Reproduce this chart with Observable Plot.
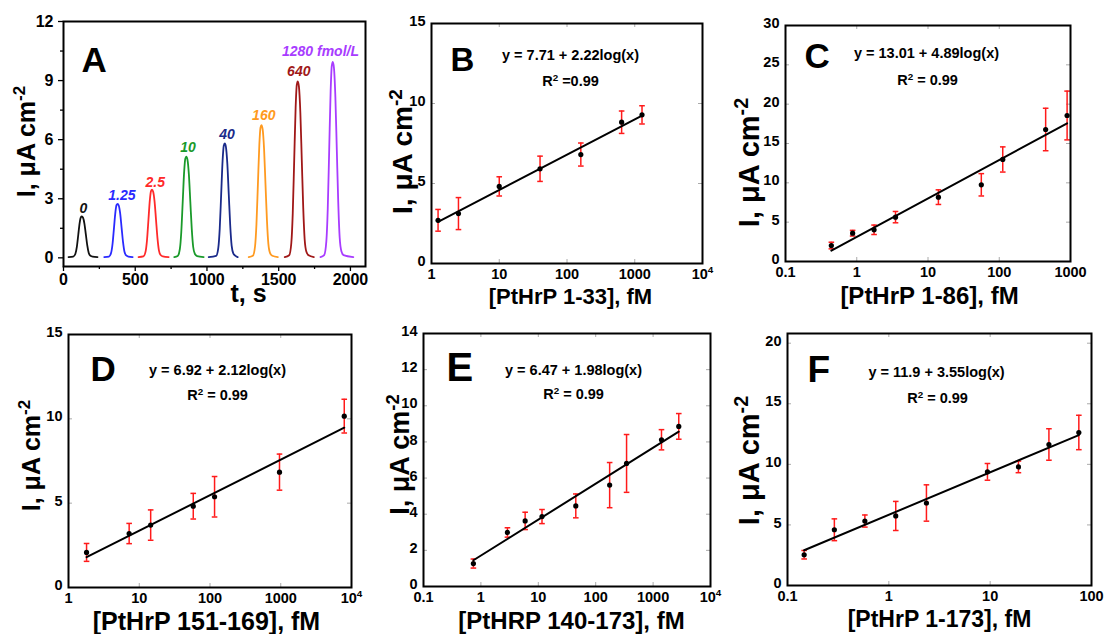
<!DOCTYPE html>
<html><head><meta charset="utf-8">
<script src="https://cdn.jsdelivr.net/npm/d3@7"></script>
<script src="https://cdn.jsdelivr.net/npm/@observablehq/plot@0.6"></script>
<style>
html,body{margin:0;padding:0;background:#fff;}
#root{position:relative;width:1107px;height:634px;overflow:hidden;background:#fff;}
.cell{position:absolute;}
.cell svg{overflow:visible;}
</style></head><body><div id="root"></div>
<script>
// ---------- Panel A: amperometric peaks ----------
const peakLabels = ["0", "1.25", "2.5", "10", "40", "160", "640", "1280 fmol/L"];
const peakColors = ["#111111", "#2a2aff", "#ff2a2a", "#1a9a2a", "#1a2a8a", "#ff9a20", "#a01818", "#a83cff"];
const peakCenters = [128, 377, 617, 856, 1124, 1380, 1633, 1877];
const peakHeights = [2.10, 2.74, 3.46, 5.14, 5.81, 6.74, 8.96, 9.95];
const peakStarts = [35, 284, 523, 772, 1012, 1291, 1542, 1791];
const peakEnds = [237, 482, 733, 977, 1214, 1494, 1745, 2020];
const peakLabelT = [138, 407, 640, 868, 1140, 1396, 1640, 1791];
const peakLabelI = [2.48, 3.16, 3.84, 5.61, 6.24, 7.25, 9.45, 10.48];
// peak profile: offset (s) from the peak top, fraction of peak height
const profileOffset = [-60, -45, -35, -25, -15, -7, 0, 8, 18, 28, 38, 48, 60, 75];
const profileShape = [0.01, 0.08, 0.25, 0.55, 0.85, 0.98, 1, 0.97, 0.82, 0.55, 0.28, 0.1, 0.03, 0.01];
const peakBaseline = 0.04;
const aXTicks = [0, 500, 1000, 1500, 2000];
const aXMinor = [250, 750, 1250, 1750];
const aYTicks = [0, 3, 6, 9, 12];
const aYMinor = [1.5, 4.5, 7.5, 10.5];

// ---------- Panel B ----------
const bConc = [1.25, 2.5, 10, 40, 160, 640, 1280];
const bI = [2.70, 3.12, 4.82, 5.92, 6.81, 8.83, 9.29];
const bErr = [0.68, 1.0, 0.6, 0.79, 0.72, 0.7, 0.57];
// ---------- Panel C ----------
const cConc = [0.44, 0.875, 1.75, 3.5, 14, 56, 112, 448, 896];
const cI = [2.03, 3.6, 4.03, 5.64, 8.18, 9.75, 12.97, 16.78, 18.56];
const cErr = [0.42, 0.36, 0.6, 0.72, 0.93, 1.42, 1.6, 2.7, 3.1];
// ---------- Panel D ----------
const dConc = [1.8, 7.2, 14.5, 58, 116, 960, 7900];
const dI = [2.08, 3.20, 3.70, 4.82, 5.38, 6.84, 10.16];
const dErr = [0.53, 0.6, 0.9, 0.76, 1.2, 1.07, 1.0];
// ---------- Panel E ----------
const eConc = [0.74, 2.9, 5.9, 11.6, 45, 175, 345, 1400, 2800];
const eI = [1.27, 2.99, 3.63, 3.87, 4.46, 5.61, 6.81, 8.12, 8.86];
const eErr = [0.25, 0.26, 0.48, 0.39, 0.66, 1.25, 1.6, 0.56, 0.71];
// ---------- Panel F ----------
const fConc = [0.146, 0.29, 0.58, 1.17, 2.35, 9.4, 19, 38, 75];
const fI = [2.54, 4.6, 5.32, 5.74, 6.81, 9.38, 9.79, 11.64, 12.63];
const fErr = [0.35, 0.9, 0.5, 1.2, 1.5, 0.69, 0.48, 1.3, 1.42];

const FONT = "'Liberation Sans', Arial, Helvetica, sans-serif";
const root = document.getElementById("root");
const NS = "http://www.w3.org/2000/svg";

function fixSup(svg) {
  svg.querySelectorAll("text").forEach(t => {
    const s = t.textContent;
    if (!s.includes("^{")) return;
    const parts = s.split(/\^\{([^}]*)\}/);
    while (t.firstChild) t.removeChild(t.firstChild);
    let after = false;
    parts.forEach((p, i) => {
      const ts = document.createElementNS(NS, "tspan");
      ts.textContent = p;
      if (i % 2 === 1) { ts.setAttribute("dy", "-0.55em"); ts.setAttribute("font-size", "68%"); after = true; }
      else if (after) { ts.setAttribute("dy", "0.374em"); after = false; }
      t.appendChild(ts);
    });
  });
}

function place(cell, frame, tickFont, options) {
  const [cx0, cy0, cx1, cy1] = cell;
  const [L, R, T, B] = frame;
  const plot = Plot.plot({
    width: cx1 - cx0, height: cy1 - cy0,
    marginLeft: L - cx0, marginRight: cx1 - R, marginTop: T - cy0, marginBottom: cy1 - B,
    style: {fontFamily: FONT, fontWeight: "bold", fontSize: tickFont + "px", color: "black", background: "transparent"},
    ...options
  });
  plot.querySelectorAll('g[aria-label$="tick label"]').forEach(g => {
    g.setAttribute("font-size", tickFont);
    g.setAttribute("font-weight", "bold");
  });
  fixSup(plot);
  const div = document.createElement("div");
  div.className = "cell";
  div.style.left = cx0 + "px";
  div.style.top = cy0 + "px";
  div.appendChild(plot);
  root.appendChild(div);
}

// text helper positioned relative to the frame's top-left corner
function note(frame, px, py, str, opts = {}) {
  return Plot.text([str], {frameAnchor: "top-left", dx: px - frame[0], dy: py - frame[2], text: d => d,
    textAnchor: "middle", lineAnchor: "middle", fill: "black", ...opts});
}

// ----- Panel A -----
{
  const cell = [0, 0, 370, 310];
  const frame = [63, 365, 21, 266];
  const rows = [];
  peakCenters.forEach((c, k) => {
    const h = peakHeights[k];
    rows.push({k, t: peakStarts[k], I: peakBaseline, color: peakColors[k]});
    profileOffset.forEach((o, j) => rows.push({k, t: c + o, I: peakBaseline + profileShape[j] * (h - peakBaseline), color: peakColors[k]}));
    rows.push({k, t: peakEnds[k], I: peakBaseline, color: peakColors[k]});
  });
  const labels = peakLabels.map((s, k) => ({s, t: peakLabelT[k], I: peakLabelI[k], color: peakColors[k]}));
  place(cell, frame, 16, {
    x: {domain: [0, 2105]},
    y: {domain: [-0.44, 12]},
    color: {type: "identity"},
    marks: [
      Plot.axisX(aXTicks, {tickSize: 5, tickPadding: 2, fontSize: 16, tickFormat: d => String(d), label: null, strokeWidth: 1.3}),
      Plot.axisX(aXMinor, {tickSize: 3, tickFormat: () => "", label: null, strokeWidth: 1.3}),
      Plot.axisY(aYTicks, {tickSize: 5, tickPadding: 5, fontSize: 16, tickFormat: d => String(d), label: null, strokeWidth: 1.3}),
      Plot.axisY(aYMinor, {tickSize: 3, tickFormat: () => "", label: null, strokeWidth: 1.3}),
      Plot.line(rows, {x: "t", y: "I", z: "k", stroke: "color", curve: "monotone-x", strokeWidth: 1.8}),
      Plot.text(labels, {x: "t", y: "I", text: "s", fill: "color", fontStyle: "italic", fontWeight: "bold", fontSize: 14}),
      note(frame, 0, 0, "A", {dx: 18, dy: 26, textAnchor: "start", lineAnchor: "top", fontSize: 35}),
      note(frame, 248, 293, "t, s", {fontSize: 25}),
      note(frame, 26, 141, "I, μA cm^{-2}", {rotate: -90, fontSize: 25}),
      Plot.frame({stroke: "black", strokeWidth: 2})
    ]
  });
}

function calibPanel(cfg) {
  const {cell, frame, conc, I, err, xDomain, yDomain, xTicks, yTicks, letter, letterPos, eq, eqPos, r2, r2Pos, xTitle, xTitlePos, yTitlePos} = cfg;
  const data = conc.map((x, i) => ({x, y: I[i], e: err[i]}));
  // least-squares fit of I against log10(concentration)
  const lx = conc.map(Math.log10);
  const mx = d3.mean(lx), my = d3.mean(I);
  const b = d3.sum(lx, (v, i) => (v - mx) * (I[i] - my)) / d3.sum(lx, v => (v - mx) ** 2);
  const a = my - b * mx;
  const ends = [conc[0], conc[conc.length - 1]].map(x => ({x, y: a + b * Math.log10(x)}));
  const fw = frame[1] - frame[0], fh = frame[3] - frame[2];
  const fmt = d => d >= 1e4 ? "10^{" + Math.round(Math.log10(d)) + "}" : String(d);
  const cap = {draw(ctx) { ctx.moveTo(-2.8, 0); ctx.lineTo(2.8, 0); }};
  place(cell, frame, 14.5, {
    x: {type: "log", domain: xDomain},
    y: {domain: yDomain},
    marks: [
      Plot.axisX(xTicks, {tickSize: 0, tickPadding: 5, fontSize: 14.5, tickFormat: fmt, label: null}),
      Plot.axisY(yTicks, {tickSize: 0, tickPadding: 6, dy: -2, fontSize: 14.5, tickFormat: d => String(d), label: null}),
      Plot.tickX(xTicks, {x: d => d, insetTop: fh - 4, stroke: "#aaa"}),
      Plot.tickX(xTicks, {x: d => d, insetBottom: fh - 4, stroke: "#aaa"}),
      Plot.tickY(yTicks, {y: d => d, insetRight: fw - 4, stroke: "#aaa"}),
      Plot.tickY(yTicks, {y: d => d, insetLeft: fw - 4, stroke: "#aaa"}),
      Plot.ruleX(data, {x: "x", y1: d => d.y - d.e, y2: d => d.y + d.e, stroke: "#ff1a1a", strokeWidth: 1.5}),
      Plot.dot(data, {x: "x", y: d => d.y + d.e, symbol: cap, stroke: "#ff1a1a", strokeWidth: 1.5, fill: "none", r: 3}),
      Plot.dot(data, {x: "x", y: d => d.y - d.e, symbol: cap, stroke: "#ff1a1a", strokeWidth: 1.5, fill: "none", r: 3}),
      Plot.line(ends, {x: "x", y: "y", stroke: "black", strokeWidth: 2}),
      Plot.dot(data, {x: "x", y: "y", r: 2.6, fill: "black"}),
      note(frame, 0, 0, letter, {dx: letterPos[0], dy: letterPos[1], textAnchor: "start", lineAnchor: "top", fontSize: letterPos[2]}),
      note(frame, eqPos[0], eqPos[1], eq, {fontSize: 14.5}),
      note(frame, r2Pos[0], r2Pos[1], r2, {fontSize: 14.5}),
      note(frame, xTitlePos[0], xTitlePos[1], xTitle, {fontSize: xTitlePos[2]}),
      note(frame, yTitlePos[0], yTitlePos[1], "I, μA cm^{-2}", {rotate: -90, fontSize: yTitlePos[2]}),
      Plot.frame({stroke: "black", strokeWidth: 2})
    ]
  });
}

calibPanel({cell: [370, 0, 737, 310], frame: [431, 702, 23, 263], conc: bConc, I: bI, err: bErr,
  xDomain: [1, 1e4], yDomain: [0, 15], xTicks: [1, 10, 100, 1000, 1e4], yTicks: [0, 5, 10, 15],
  letter: "B", letterPos: [19, 24, 33], eq: "y = 7.71 + 2.22log(x)", eqPos: [570, 55], r2: "R^{2} =0.99", r2Pos: [570, 81],
  xTitle: "[PtHrP 1-33], fM", xTitlePos: [570, 296, 22], yTitlePos: [403, 151, 28]});

calibPanel({cell: [737, 0, 1107, 310], frame: [785, 1070, 25, 261], conc: cConc, I: cI, err: cErr,
  xDomain: [0.1, 1000], yDomain: [0, 30], xTicks: [0.1, 1, 10, 100, 1000], yTicks: [0, 5, 10, 15, 20, 25, 30],
  letter: "C", letterPos: [19, 18, 35], eq: "y = 13.01 + 4.89log(x)", eqPos: [926, 53], r2: "R^{2} = 0.99", r2Pos: [927, 80],
  xTitle: "[PtHrP 1-86], fM", xTitlePos: [929, 296, 24], yTitlePos: [749, 162, 29]});

calibPanel({cell: [0, 310, 370, 634], frame: [68, 351, 334, 587], conc: dConc, I: dI, err: dErr,
  xDomain: [1, 1e4], yDomain: [0, 15], xTicks: [1, 10, 100, 1000, 1e4], yTicks: [0, 5, 10, 15],
  letter: "D", letterPos: [22, 22, 35], eq: "y = 6.92 + 2.12log(x)", eqPos: [217, 370], r2: "R^{2} = 0.99", r2Pos: [217, 395],
  xTitle: "[PtHrP 151-169], fM", xTitlePos: [206, 621, 25], yTitlePos: [31, 455, 25]});

calibPanel({cell: [370, 310, 737, 634], frame: [423, 710, 333, 586], conc: eConc, I: eI, err: eErr,
  xDomain: [0.1, 1e4], yDomain: [0, 14], xTicks: [0.1, 1, 10, 100, 1000, 1e4], yTicks: [0, 2, 4, 6, 8, 10, 12, 14],
  letter: "E", letterPos: [23, 19, 40], eq: "y = 6.47 + 1.98log(x)", eqPos: [573, 370], r2: "R^{2} = 0.99", r2Pos: [573, 394],
  xTitle: "[PtHRP 140-173], fM", xTitlePos: [571, 621, 24], yTitlePos: [400, 454, 27]});

calibPanel({cell: [737, 310, 1107, 634], frame: [787, 1091, 333, 585], conc: fConc, I: fI, err: fErr,
  xDomain: [0.1, 100], yDomain: [0, 20.8], xTicks: [0.1, 1, 10, 100], yTicks: [0, 5, 10, 15, 20],
  letter: "F", letterPos: [20, 22, 37], eq: "y = 11.9 + 3.55log(x)", eqPos: [936, 372], r2: "R^{2} = 0.99", r2Pos: [937, 398],
  xTitle: "[PtHrP 1-173], fM", xTitlePos: [939, 619, 23], yTitlePos: [749, 460, 29]});
</script></body></html>
